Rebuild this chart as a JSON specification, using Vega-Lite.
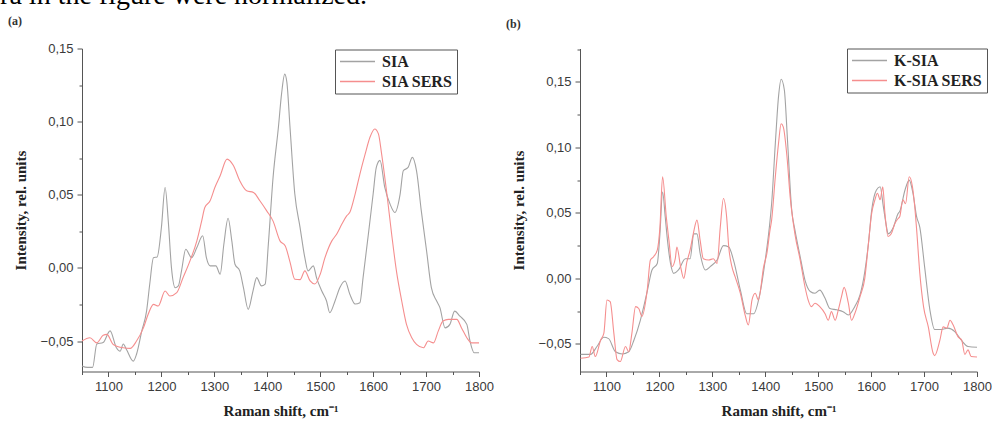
{
  "$schema": "https://vega.github.io/schema/vega-lite/v6.json",
  "padding": {"left": 0, "top": -18.5, "right": 0, "bottom": 0},
  "title": {
    "text": "ra in the figure were normalized.",
    "font": "Liberation Serif",
    "fontSize": 28,
    "fontWeight": "normal",
    "color": "#000000",
    "anchor": "start",
    "offset": 4.5,
    "dx": -8
  },
  "datasets": {
    "a": [
      {"series": "SIA", "shift": 1050, "intensity": -0.067}, {"series": "SIA", "shift": 1060, "intensity": -0.068}, {"series": "SIA", "shift": 1070, "intensity": -0.068},
      {"series": "SIA", "shift": 1078, "intensity": -0.052}, {"series": "SIA", "shift": 1090, "intensity": -0.051}, {"series": "SIA", "shift": 1103, "intensity": -0.043},
      {"series": "SIA", "shift": 1115, "intensity": -0.0546}, {"series": "SIA", "shift": 1122, "intensity": -0.057}, {"series": "SIA", "shift": 1128, "intensity": -0.052},
      {"series": "SIA", "shift": 1134, "intensity": -0.0557}, {"series": "SIA", "shift": 1147, "intensity": -0.0637}, {"series": "SIA", "shift": 1153, "intensity": -0.059},
      {"series": "SIA", "shift": 1163, "intensity": -0.043}, {"series": "SIA", "shift": 1172, "intensity": -0.0295}, {"series": "SIA", "shift": 1178, "intensity": -0.011},
      {"series": "SIA", "shift": 1185, "intensity": 0.007}, {"series": "SIA", "shift": 1192, "intensity": 0.0075}, {"series": "SIA", "shift": 1200, "intensity": 0.0276},
      {"series": "SIA", "shift": 1207, "intensity": 0.055}, {"series": "SIA", "shift": 1213, "intensity": 0.032}, {"series": "SIA", "shift": 1219, "intensity": 0.0002},
      {"series": "SIA", "shift": 1226, "intensity": -0.0135}, {"series": "SIA", "shift": 1232, "intensity": -0.0123}, {"series": "SIA", "shift": 1238, "intensity": -0.002},
      {"series": "SIA", "shift": 1246, "intensity": 0.0128}, {"series": "SIA", "shift": 1257, "intensity": 0.007}, {"series": "SIA", "shift": 1267, "intensity": 0.0139},
      {"series": "SIA", "shift": 1278, "intensity": 0.022}, {"series": "SIA", "shift": 1285, "intensity": 0.007}, {"series": "SIA", "shift": 1292, "intensity": 0.0014},
      {"series": "SIA", "shift": 1303, "intensity": 0.0014}, {"series": "SIA", "shift": 1311, "intensity": -0.0043}, {"series": "SIA", "shift": 1318, "intensity": 0.0162},
      {"series": "SIA", "shift": 1326, "intensity": 0.034}, {"series": "SIA", "shift": 1333, "intensity": 0.0185}, {"series": "SIA", "shift": 1339, "intensity": 0.0025},
      {"series": "SIA", "shift": 1348, "intensity": -0.002}, {"series": "SIA", "shift": 1355, "intensity": -0.0135}, {"series": "SIA", "shift": 1364, "intensity": -0.0283},
      {"series": "SIA", "shift": 1373, "intensity": -0.0158}, {"series": "SIA", "shift": 1380, "intensity": -0.0066}, {"series": "SIA", "shift": 1389, "intensity": -0.0123},
      {"series": "SIA", "shift": 1396, "intensity": -0.011}, {"series": "SIA", "shift": 1402, "intensity": 0.016}, {"series": "SIA", "shift": 1411, "intensity": 0.062},
      {"series": "SIA", "shift": 1421, "intensity": 0.096}, {"series": "SIA", "shift": 1427, "intensity": 0.119}, {"series": "SIA", "shift": 1433, "intensity": 0.1325},
      {"series": "SIA", "shift": 1437, "intensity": 0.127}, {"series": "SIA", "shift": 1443, "intensity": 0.096}, {"series": "SIA", "shift": 1452, "intensity": 0.0507},
      {"series": "SIA", "shift": 1462, "intensity": 0.0276}, {"series": "SIA", "shift": 1471, "intensity": 0.007}, {"series": "SIA", "shift": 1477, "intensity": -0.002},
      {"series": "SIA", "shift": 1487, "intensity": 0.0014}, {"series": "SIA", "shift": 1493, "intensity": -0.0066}, {"series": "SIA", "shift": 1503, "intensity": -0.0158},
      {"series": "SIA", "shift": 1512, "intensity": -0.0226}, {"series": "SIA", "shift": 1518, "intensity": -0.0306}, {"series": "SIA", "shift": 1528, "intensity": -0.0226},
      {"series": "SIA", "shift": 1537, "intensity": -0.0135}, {"series": "SIA", "shift": 1547, "intensity": -0.0089}, {"series": "SIA", "shift": 1556, "intensity": -0.018},
      {"series": "SIA", "shift": 1566, "intensity": -0.0247}, {"series": "SIA", "shift": 1575, "intensity": -0.0238}, {"series": "SIA", "shift": 1581, "intensity": -0.0066},
      {"series": "SIA", "shift": 1591, "intensity": 0.023}, {"series": "SIA", "shift": 1600, "intensity": 0.0505}, {"series": "SIA", "shift": 1606, "intensity": 0.0687},
      {"series": "SIA", "shift": 1613, "intensity": 0.0735}, {"series": "SIA", "shift": 1622, "intensity": 0.055}, {"series": "SIA", "shift": 1632, "intensity": 0.0436},
      {"series": "SIA", "shift": 1641, "intensity": 0.0379}, {"series": "SIA", "shift": 1651, "intensity": 0.0505}, {"series": "SIA", "shift": 1657, "intensity": 0.0664},
      {"series": "SIA", "shift": 1666, "intensity": 0.0687}, {"series": "SIA", "shift": 1674, "intensity": 0.0756}, {"series": "SIA", "shift": 1682, "intensity": 0.0664},
      {"series": "SIA", "shift": 1691, "intensity": 0.039}, {"series": "SIA", "shift": 1701, "intensity": 0.0116}, {"series": "SIA", "shift": 1710, "intensity": -0.0135},
      {"series": "SIA", "shift": 1720, "intensity": -0.0226}, {"series": "SIA", "shift": 1726, "intensity": -0.027}, {"series": "SIA", "shift": 1736, "intensity": -0.041},
      {"series": "SIA", "shift": 1745, "intensity": -0.0386}, {"series": "SIA", "shift": 1754, "intensity": -0.0295}, {"series": "SIA", "shift": 1764, "intensity": -0.033},
      {"series": "SIA", "shift": 1777, "intensity": -0.0386}, {"series": "SIA", "shift": 1783, "intensity": -0.05}, {"series": "SIA", "shift": 1791, "intensity": -0.058},
      {"series": "SIA", "shift": 1800, "intensity": -0.058},
      {"series": "SIA SERS", "shift": 1050, "intensity": -0.05}, {"series": "SIA SERS", "shift": 1065, "intensity": -0.0477}, {"series": "SIA SERS", "shift": 1078, "intensity": -0.0512},
      {"series": "SIA SERS", "shift": 1090, "intensity": -0.046}, {"series": "SIA SERS", "shift": 1097, "intensity": -0.0454}, {"series": "SIA SERS", "shift": 1109, "intensity": -0.0523},
      {"series": "SIA SERS", "shift": 1128, "intensity": -0.0546}, {"series": "SIA SERS", "shift": 1141, "intensity": -0.055}, {"series": "SIA SERS", "shift": 1153, "intensity": -0.05},
      {"series": "SIA SERS", "shift": 1166, "intensity": -0.041}, {"series": "SIA SERS", "shift": 1175, "intensity": -0.0317}, {"series": "SIA SERS", "shift": 1185, "intensity": -0.0249},
      {"series": "SIA SERS", "shift": 1194, "intensity": -0.026}, {"series": "SIA SERS", "shift": 1207, "intensity": -0.0158}, {"series": "SIA SERS", "shift": 1216, "intensity": -0.0192},
      {"series": "SIA SERS", "shift": 1229, "intensity": -0.0169}, {"series": "SIA SERS", "shift": 1241, "intensity": -0.0066}, {"series": "SIA SERS", "shift": 1254, "intensity": 0.0048},
      {"series": "SIA SERS", "shift": 1267, "intensity": 0.0185}, {"series": "SIA SERS", "shift": 1276, "intensity": 0.032}, {"series": "SIA SERS", "shift": 1282, "intensity": 0.0413},
      {"series": "SIA SERS", "shift": 1292, "intensity": 0.0459}, {"series": "SIA SERS", "shift": 1301, "intensity": 0.055}, {"series": "SIA SERS", "shift": 1311, "intensity": 0.063},
      {"series": "SIA SERS", "shift": 1324, "intensity": 0.0744}, {"series": "SIA SERS", "shift": 1336, "intensity": 0.07}, {"series": "SIA SERS", "shift": 1348, "intensity": 0.0596},
      {"series": "SIA SERS", "shift": 1361, "intensity": 0.0527}, {"series": "SIA SERS", "shift": 1374, "intensity": 0.0516}, {"series": "SIA SERS", "shift": 1386, "intensity": 0.0459},
      {"series": "SIA SERS", "shift": 1399, "intensity": 0.039}, {"series": "SIA SERS", "shift": 1411, "intensity": 0.032}, {"series": "SIA SERS", "shift": 1424, "intensity": 0.0185},
      {"series": "SIA SERS", "shift": 1434, "intensity": 0.015}, {"series": "SIA SERS", "shift": 1443, "intensity": 0.004}, {"series": "SIA SERS", "shift": 1452, "intensity": -0.0077},
      {"series": "SIA SERS", "shift": 1462, "intensity": -0.008}, {"series": "SIA SERS", "shift": 1471, "intensity": -0.002}, {"series": "SIA SERS", "shift": 1481, "intensity": -0.0089},
      {"series": "SIA SERS", "shift": 1490, "intensity": -0.011}, {"series": "SIA SERS", "shift": 1500, "intensity": -0.0043}, {"series": "SIA SERS", "shift": 1509, "intensity": 0.007},
      {"series": "SIA SERS", "shift": 1522, "intensity": 0.0185}, {"series": "SIA SERS", "shift": 1531, "intensity": 0.023}, {"series": "SIA SERS", "shift": 1541, "intensity": 0.03},
      {"series": "SIA SERS", "shift": 1550, "intensity": 0.0356}, {"series": "SIA SERS", "shift": 1556, "intensity": 0.038}, {"series": "SIA SERS", "shift": 1566, "intensity": 0.0505},
      {"series": "SIA SERS", "shift": 1575, "intensity": 0.0642}, {"series": "SIA SERS", "shift": 1585, "intensity": 0.0779}, {"series": "SIA SERS", "shift": 1594, "intensity": 0.0893},
      {"series": "SIA SERS", "shift": 1603, "intensity": 0.095}, {"series": "SIA SERS", "shift": 1610, "intensity": 0.0916}, {"series": "SIA SERS", "shift": 1616, "intensity": 0.078},
      {"series": "SIA SERS", "shift": 1626, "intensity": 0.0505}, {"series": "SIA SERS", "shift": 1635, "intensity": 0.023}, {"series": "SIA SERS", "shift": 1644, "intensity": -0.002},
      {"series": "SIA SERS", "shift": 1654, "intensity": -0.0226}, {"series": "SIA SERS", "shift": 1663, "intensity": -0.0386}, {"series": "SIA SERS", "shift": 1673, "intensity": -0.0477},
      {"series": "SIA SERS", "shift": 1682, "intensity": -0.0523}, {"series": "SIA SERS", "shift": 1695, "intensity": -0.0546}, {"series": "SIA SERS", "shift": 1704, "intensity": -0.05},
      {"series": "SIA SERS", "shift": 1714, "intensity": -0.0512}, {"series": "SIA SERS", "shift": 1723, "intensity": -0.0432}, {"series": "SIA SERS", "shift": 1732, "intensity": -0.0363},
      {"series": "SIA SERS", "shift": 1742, "intensity": -0.0352}, {"series": "SIA SERS", "shift": 1758, "intensity": -0.0352}, {"series": "SIA SERS", "shift": 1767, "intensity": -0.041},
      {"series": "SIA SERS", "shift": 1777, "intensity": -0.0477}, {"series": "SIA SERS", "shift": 1786, "intensity": -0.0512}, {"series": "SIA SERS", "shift": 1800, "intensity": -0.0512}
    ],
    "b": [
      {"series": "K-SIA", "shift": 1051, "intensity": -0.058}, {"series": "K-SIA", "shift": 1070, "intensity": -0.058}, {"series": "K-SIA", "shift": 1082, "intensity": -0.052},
      {"series": "K-SIA", "shift": 1095, "intensity": -0.045}, {"series": "K-SIA", "shift": 1104, "intensity": -0.046}, {"series": "K-SIA", "shift": 1117, "intensity": -0.056},
      {"series": "K-SIA", "shift": 1130, "intensity": -0.0577}, {"series": "K-SIA", "shift": 1142, "intensity": -0.056}, {"series": "K-SIA", "shift": 1152, "intensity": -0.047},
      {"series": "K-SIA", "shift": 1164, "intensity": -0.032}, {"series": "K-SIA", "shift": 1177, "intensity": -0.01}, {"series": "K-SIA", "shift": 1186, "intensity": 0.0064},
      {"series": "K-SIA", "shift": 1196, "intensity": 0.0114}, {"series": "K-SIA", "shift": 1201, "intensity": 0.034}, {"series": "K-SIA", "shift": 1206, "intensity": 0.066},
      {"series": "K-SIA", "shift": 1211, "intensity": 0.047}, {"series": "K-SIA", "shift": 1214, "intensity": 0.034}, {"series": "K-SIA", "shift": 1221, "intensity": 0.0114},
      {"series": "K-SIA", "shift": 1227, "intensity": 0.0038}, {"series": "K-SIA", "shift": 1236, "intensity": 0.0064}, {"series": "K-SIA", "shift": 1249, "intensity": 0.015},
      {"series": "K-SIA", "shift": 1258, "intensity": 0.015}, {"series": "K-SIA", "shift": 1265, "intensity": 0.034}, {"series": "K-SIA", "shift": 1271, "intensity": 0.034},
      {"series": "K-SIA", "shift": 1277, "intensity": 0.019}, {"series": "K-SIA", "shift": 1287, "intensity": 0.0064}, {"series": "K-SIA", "shift": 1296, "intensity": 0.009},
      {"series": "K-SIA", "shift": 1309, "intensity": 0.014}, {"series": "K-SIA", "shift": 1321, "intensity": 0.025}, {"series": "K-SIA", "shift": 1331, "intensity": 0.024},
      {"series": "K-SIA", "shift": 1340, "intensity": 0.014}, {"series": "K-SIA", "shift": 1353, "intensity": -0.009}, {"series": "K-SIA", "shift": 1365, "intensity": -0.027},
      {"series": "K-SIA", "shift": 1378, "intensity": -0.027}, {"series": "K-SIA", "shift": 1390, "intensity": -0.0114}, {"series": "K-SIA", "shift": 1400, "intensity": 0.014},
      {"series": "K-SIA", "shift": 1409, "intensity": 0.044}, {"series": "K-SIA", "shift": 1412, "intensity": 0.057}, {"series": "K-SIA", "shift": 1419, "intensity": 0.103},
      {"series": "K-SIA", "shift": 1425, "intensity": 0.1386}, {"series": "K-SIA", "shift": 1430, "intensity": 0.152}, {"series": "K-SIA", "shift": 1436, "intensity": 0.144},
      {"series": "K-SIA", "shift": 1442, "intensity": 0.1055}, {"series": "K-SIA", "shift": 1450, "intensity": 0.052}, {"series": "K-SIA", "shift": 1456, "intensity": 0.037},
      {"series": "K-SIA", "shift": 1466, "intensity": 0.0165}, {"series": "K-SIA", "shift": 1475, "intensity": -0.0013}, {"series": "K-SIA", "shift": 1485, "intensity": -0.01},
      {"series": "K-SIA", "shift": 1494, "intensity": -0.0114}, {"series": "K-SIA", "shift": 1503, "intensity": -0.009}, {"series": "K-SIA", "shift": 1513, "intensity": -0.0152},
      {"series": "K-SIA", "shift": 1522, "intensity": -0.023}, {"series": "K-SIA", "shift": 1535, "intensity": -0.024}, {"series": "K-SIA", "shift": 1547, "intensity": -0.0254},
      {"series": "K-SIA", "shift": 1557, "intensity": -0.028}, {"series": "K-SIA", "shift": 1569, "intensity": -0.0216}, {"series": "K-SIA", "shift": 1579, "intensity": -0.0127},
      {"series": "K-SIA", "shift": 1588, "intensity": 0.005}, {"series": "K-SIA", "shift": 1595, "intensity": 0.027}, {"series": "K-SIA", "shift": 1601, "intensity": 0.052},
      {"series": "K-SIA", "shift": 1610, "intensity": 0.0675}, {"series": "K-SIA", "shift": 1617, "intensity": 0.07}, {"series": "K-SIA", "shift": 1623, "intensity": 0.055},
      {"series": "K-SIA", "shift": 1629, "intensity": 0.0395}, {"series": "K-SIA", "shift": 1632, "intensity": 0.034}, {"series": "K-SIA", "shift": 1642, "intensity": 0.039},
      {"series": "K-SIA", "shift": 1651, "intensity": 0.0495}, {"series": "K-SIA", "shift": 1654, "intensity": 0.051}, {"series": "K-SIA", "shift": 1664, "intensity": 0.0675},
      {"series": "K-SIA", "shift": 1672, "intensity": 0.075}, {"series": "K-SIA", "shift": 1679, "intensity": 0.065}, {"series": "K-SIA", "shift": 1686, "intensity": 0.047},
      {"series": "K-SIA", "shift": 1692, "intensity": 0.039}, {"series": "K-SIA", "shift": 1701, "intensity": 0.009}, {"series": "K-SIA", "shift": 1711, "intensity": -0.024},
      {"series": "K-SIA", "shift": 1720, "intensity": -0.039}, {"series": "K-SIA", "shift": 1733, "intensity": -0.039}, {"series": "K-SIA", "shift": 1745, "intensity": -0.038},
      {"series": "K-SIA", "shift": 1758, "intensity": -0.0406}, {"series": "K-SIA", "shift": 1770, "intensity": -0.047}, {"series": "K-SIA", "shift": 1783, "intensity": -0.052},
      {"series": "K-SIA", "shift": 1800, "intensity": -0.0526},
      {"series": "K-SIA SERS", "shift": 1051, "intensity": -0.061}, {"series": "K-SIA SERS", "shift": 1067, "intensity": -0.06}, {"series": "K-SIA SERS", "shift": 1073, "intensity": -0.052},
      {"series": "K-SIA SERS", "shift": 1079, "intensity": -0.0597}, {"series": "K-SIA SERS", "shift": 1089, "intensity": -0.047}, {"series": "K-SIA SERS", "shift": 1095, "intensity": -0.042},
      {"series": "K-SIA SERS", "shift": 1101, "intensity": -0.0165}, {"series": "K-SIA SERS", "shift": 1107, "intensity": -0.0178}, {"series": "K-SIA SERS", "shift": 1114, "intensity": -0.042},
      {"series": "K-SIA SERS", "shift": 1120, "intensity": -0.062}, {"series": "K-SIA SERS", "shift": 1126, "intensity": -0.0635}, {"series": "K-SIA SERS", "shift": 1136, "intensity": -0.052},
      {"series": "K-SIA SERS", "shift": 1142, "intensity": -0.056}, {"series": "K-SIA SERS", "shift": 1148, "intensity": -0.042}, {"series": "K-SIA SERS", "shift": 1155, "intensity": -0.0216},
      {"series": "K-SIA SERS", "shift": 1161, "intensity": -0.023}, {"series": "K-SIA SERS", "shift": 1167, "intensity": -0.029}, {"series": "K-SIA SERS", "shift": 1177, "intensity": -0.009},
      {"series": "K-SIA SERS", "shift": 1183, "intensity": 0.014}, {"series": "K-SIA SERS", "shift": 1189, "intensity": 0.0165}, {"series": "K-SIA SERS", "shift": 1196, "intensity": 0.0216},
      {"series": "K-SIA SERS", "shift": 1201, "intensity": 0.039}, {"series": "K-SIA SERS", "shift": 1206, "intensity": 0.0776}, {"series": "K-SIA SERS", "shift": 1213, "intensity": 0.047},
      {"series": "K-SIA SERS", "shift": 1218, "intensity": 0.029}, {"series": "K-SIA SERS", "shift": 1224, "intensity": 0.009}, {"series": "K-SIA SERS", "shift": 1230, "intensity": 0.015},
      {"series": "K-SIA SERS", "shift": 1233, "intensity": 0.024}, {"series": "K-SIA SERS", "shift": 1240, "intensity": 0.009}, {"series": "K-SIA SERS", "shift": 1246, "intensity": 0.0},
      {"series": "K-SIA SERS", "shift": 1252, "intensity": 0.0127}, {"series": "K-SIA SERS", "shift": 1258, "intensity": 0.0216}, {"series": "K-SIA SERS", "shift": 1264, "intensity": 0.034},
      {"series": "K-SIA SERS", "shift": 1271, "intensity": 0.0445}, {"series": "K-SIA SERS", "shift": 1277, "intensity": 0.029}, {"series": "K-SIA SERS", "shift": 1283, "intensity": 0.015},
      {"series": "K-SIA SERS", "shift": 1293, "intensity": 0.014}, {"series": "K-SIA SERS", "shift": 1302, "intensity": 0.015}, {"series": "K-SIA SERS", "shift": 1309, "intensity": 0.0114},
      {"series": "K-SIA SERS", "shift": 1315, "intensity": 0.039}, {"series": "K-SIA SERS", "shift": 1321, "intensity": 0.061}, {"series": "K-SIA SERS", "shift": 1327, "intensity": 0.047},
      {"series": "K-SIA SERS", "shift": 1331, "intensity": 0.024}, {"series": "K-SIA SERS", "shift": 1337, "intensity": 0.009}, {"series": "K-SIA SERS", "shift": 1343, "intensity": 0.0013},
      {"series": "K-SIA SERS", "shift": 1353, "intensity": -0.0114}, {"series": "K-SIA SERS", "shift": 1362, "intensity": -0.028}, {"series": "K-SIA SERS", "shift": 1368, "intensity": -0.0356},
      {"series": "K-SIA SERS", "shift": 1375, "intensity": -0.0165}, {"series": "K-SIA SERS", "shift": 1381, "intensity": -0.0114}, {"series": "K-SIA SERS", "shift": 1387, "intensity": -0.0165},
      {"series": "K-SIA SERS", "shift": 1397, "intensity": 0.009}, {"series": "K-SIA SERS", "shift": 1403, "intensity": 0.019}, {"series": "K-SIA SERS", "shift": 1409, "intensity": 0.037},
      {"series": "K-SIA SERS", "shift": 1412, "intensity": 0.0445}, {"series": "K-SIA SERS", "shift": 1419, "intensity": 0.0776}, {"series": "K-SIA SERS", "shift": 1425, "intensity": 0.103},
      {"series": "K-SIA SERS", "shift": 1430, "intensity": 0.118}, {"series": "K-SIA SERS", "shift": 1434, "intensity": 0.1157}, {"series": "K-SIA SERS", "shift": 1441, "intensity": 0.093},
      {"series": "K-SIA SERS", "shift": 1447, "intensity": 0.0624}, {"series": "K-SIA SERS", "shift": 1456, "intensity": 0.034}, {"series": "K-SIA SERS", "shift": 1466, "intensity": 0.014},
      {"series": "K-SIA SERS", "shift": 1475, "intensity": -0.0064}, {"series": "K-SIA SERS", "shift": 1481, "intensity": -0.0165}, {"series": "K-SIA SERS", "shift": 1487, "intensity": -0.0216},
      {"series": "K-SIA SERS", "shift": 1494, "intensity": -0.019}, {"series": "K-SIA SERS", "shift": 1503, "intensity": -0.0216}, {"series": "K-SIA SERS", "shift": 1513, "intensity": -0.027},
      {"series": "K-SIA SERS", "shift": 1519, "intensity": -0.032}, {"series": "K-SIA SERS", "shift": 1525, "intensity": -0.0254}, {"series": "K-SIA SERS", "shift": 1532, "intensity": -0.032},
      {"series": "K-SIA SERS", "shift": 1538, "intensity": -0.024}, {"series": "K-SIA SERS", "shift": 1544, "intensity": -0.014}, {"series": "K-SIA SERS", "shift": 1549, "intensity": -0.0069},
      {"series": "K-SIA SERS", "shift": 1557, "intensity": -0.019}, {"series": "K-SIA SERS", "shift": 1563, "intensity": -0.032}, {"series": "K-SIA SERS", "shift": 1569, "intensity": -0.027},
      {"series": "K-SIA SERS", "shift": 1579, "intensity": -0.014}, {"series": "K-SIA SERS", "shift": 1588, "intensity": 0.0}, {"series": "K-SIA SERS", "shift": 1595, "intensity": 0.027},
      {"series": "K-SIA SERS", "shift": 1601, "intensity": 0.0495}, {"series": "K-SIA SERS", "shift": 1607, "intensity": 0.0598}, {"series": "K-SIA SERS", "shift": 1612, "intensity": 0.065},
      {"series": "K-SIA SERS", "shift": 1617, "intensity": 0.06}, {"series": "K-SIA SERS", "shift": 1622, "intensity": 0.07}, {"series": "K-SIA SERS", "shift": 1626, "intensity": 0.05},
      {"series": "K-SIA SERS", "shift": 1632, "intensity": 0.032}, {"series": "K-SIA SERS", "shift": 1638, "intensity": 0.034}, {"series": "K-SIA SERS", "shift": 1645, "intensity": 0.042},
      {"series": "K-SIA SERS", "shift": 1651, "intensity": 0.0457}, {"series": "K-SIA SERS", "shift": 1654, "intensity": 0.047}, {"series": "K-SIA SERS", "shift": 1660, "intensity": 0.06},
      {"series": "K-SIA SERS", "shift": 1665, "intensity": 0.057}, {"series": "K-SIA SERS", "shift": 1672, "intensity": 0.0776}, {"series": "K-SIA SERS", "shift": 1678, "intensity": 0.07},
      {"series": "K-SIA SERS", "shift": 1683, "intensity": 0.052}, {"series": "K-SIA SERS", "shift": 1686, "intensity": 0.037}, {"series": "K-SIA SERS", "shift": 1692, "intensity": 0.0038},
      {"series": "K-SIA SERS", "shift": 1699, "intensity": -0.0216}, {"series": "K-SIA SERS", "shift": 1708, "intensity": -0.037}, {"series": "K-SIA SERS", "shift": 1717, "intensity": -0.057},
      {"series": "K-SIA SERS", "shift": 1720, "intensity": -0.059}, {"series": "K-SIA SERS", "shift": 1730, "intensity": -0.047}, {"series": "K-SIA SERS", "shift": 1736, "intensity": -0.037},
      {"series": "K-SIA SERS", "shift": 1743, "intensity": -0.038}, {"series": "K-SIA SERS", "shift": 1749, "intensity": -0.032}, {"series": "K-SIA SERS", "shift": 1755, "intensity": -0.0356},
      {"series": "K-SIA SERS", "shift": 1764, "intensity": -0.0445}, {"series": "K-SIA SERS", "shift": 1771, "intensity": -0.047}, {"series": "K-SIA SERS", "shift": 1777, "intensity": -0.058},
      {"series": "K-SIA SERS", "shift": 1783, "intensity": -0.0546}, {"series": "K-SIA SERS", "shift": 1789, "intensity": -0.0597}, {"series": "K-SIA SERS", "shift": 1800, "intensity": -0.06}
    ]
  },
  "bounds": "flush",
  "spacing": 101,
  "resolve": {"scale": {"color": "independent"}, "legend": {"color": "independent"}},
  "hconcat": [
    {
      "title": {"text": "(a)", "anchor": "start", "dx": -5, "offset": 15},
      "width": 397,
      "height": 323,
      "data": {"name": "a"},
      "mark": {"type": "line", "strokeWidth": 1.1, "interpolate": "monotone"},
      "encoding": {
        "x": {
          "field": "shift", "type": "quantitative",
          "scale": {"domain": [1050, 1800], "nice": false, "zero": false},
          "axis": {
            "title": "Raman shift, cm⁻¹",
            "values": [1050, 1100, 1150, 1200, 1250, 1300, 1350, 1400, 1450, 1500, 1550, 1600, 1650, 1700, 1750, 1800],
            "format": "d",
            "labelExpr": "datum.value % 100 === 0 ? datum.label : ''",
            "tickSize": {"condition": {"test": "datum.value % 100 === 0", "value": 5}, "value": 3}
          }
        },
        "y": {
          "field": "intensity", "type": "quantitative",
          "scale": {"domain": [-0.0708, 0.15], "nice": false, "zero": false},
          "axis": {
            "title": "Intensity, rel. units",
            "values": [-0.05, -0.025, 0, 0.025, 0.05, 0.075, 0.1, 0.125, 0.15],
            "labelExpr": "abs(datum.value * 20 - round(datum.value * 20)) < 0.001 ? replace(format(datum.value, '.2f'), '.', ',') : ''",
            "tickSize": {"condition": {"test": "abs(datum.value * 20 - round(datum.value * 20)) < 0.001", "value": 5}, "value": 3}
          }
        },
        "color": {
          "field": "series", "type": "nominal",
          "scale": {"domain": ["SIA", "SIA SERS"], "range": ["#a3a3a3", "#f58e8e"]},
          "legend": {"orient": "none", "legendX": 253, "legendY": 1}
        }
      }
    },
    {
      "title": {"text": "(b)", "anchor": "start", "dx": -5, "offset": 12},
      "width": 397,
      "height": 323,
      "data": {"name": "b"},
      "mark": {"type": "line", "strokeWidth": 1.1, "interpolate": "monotone"},
      "encoding": {
        "x": {
          "field": "shift", "type": "quantitative",
          "scale": {"domain": [1050, 1800], "nice": false, "zero": false},
          "axis": {
            "title": "Raman shift, cm⁻¹",
            "values": [1050, 1100, 1150, 1200, 1250, 1300, 1350, 1400, 1450, 1500, 1550, 1600, 1650, 1700, 1750, 1800],
            "format": "d",
            "labelExpr": "datum.value % 100 === 0 ? datum.label : ''",
            "tickSize": {"condition": {"test": "datum.value % 100 === 0", "value": 5}, "value": 3}
          }
        },
        "y": {
          "field": "intensity", "type": "quantitative",
          "scale": {"domain": [-0.0711, 0.1755], "nice": false, "zero": false},
          "axis": {
            "title": "Intensity, rel. units",
            "values": [-0.05, -0.025, 0, 0.025, 0.05, 0.075, 0.1, 0.125, 0.15, 0.175],
            "labelExpr": "abs(datum.value * 20 - round(datum.value * 20)) < 0.001 ? replace(format(datum.value, '.2f'), '.', ',') : ''",
            "tickSize": {"condition": {"test": "abs(datum.value * 20 - round(datum.value * 20)) < 0.001", "value": 5}, "value": 3}
          }
        },
        "color": {
          "field": "series", "type": "nominal",
          "scale": {"domain": ["K-SIA", "K-SIA SERS"], "range": ["#a3a3a3", "#f58e8e"]},
          "legend": {"orient": "none", "legendX": 267, "legendY": 0}
        }
      }
    }
  ],
  "config": {
    "background": "#ffffff",
    "view": {"stroke": null},
    "title": {"font": "Liberation Serif", "fontSize": 12, "fontWeight": "bold", "color": "#333333"},
    "axis": {
      "grid": false,
      "domainColor": "#555555",
      "tickColor": "#555555",
      "labelFont": "Liberation Sans",
      "labelFontSize": 13,
      "labelColor": "#3a3a3a",
      "labelPadding": 4,
      "labelFlush": false,
      "labelOverlap": false,
      "titleFont": "Liberation Serif",
      "titleFontSize": 15,
      "titleFontWeight": "bold",
      "titleColor": "#222222"
    },
    "axisX": {"titlePadding": 10},
    "axisY": {"titlePadding": 12},
    "legend": {
      "title": null,
      "strokeColor": "#555555",
      "fillColor": "#ffffff",
      "padding": 4,
      "rowPadding": 4,
      "symbolType": "M-1,0H4",
      "symbolSize": 196,
      "symbolStrokeWidth": 1.4,
      "labelFont": "Liberation Serif",
      "labelFontSize": 16,
      "labelFontWeight": "bold",
      "labelColor": "#222222",
      "labelOffset": 27
    }
  }
}
